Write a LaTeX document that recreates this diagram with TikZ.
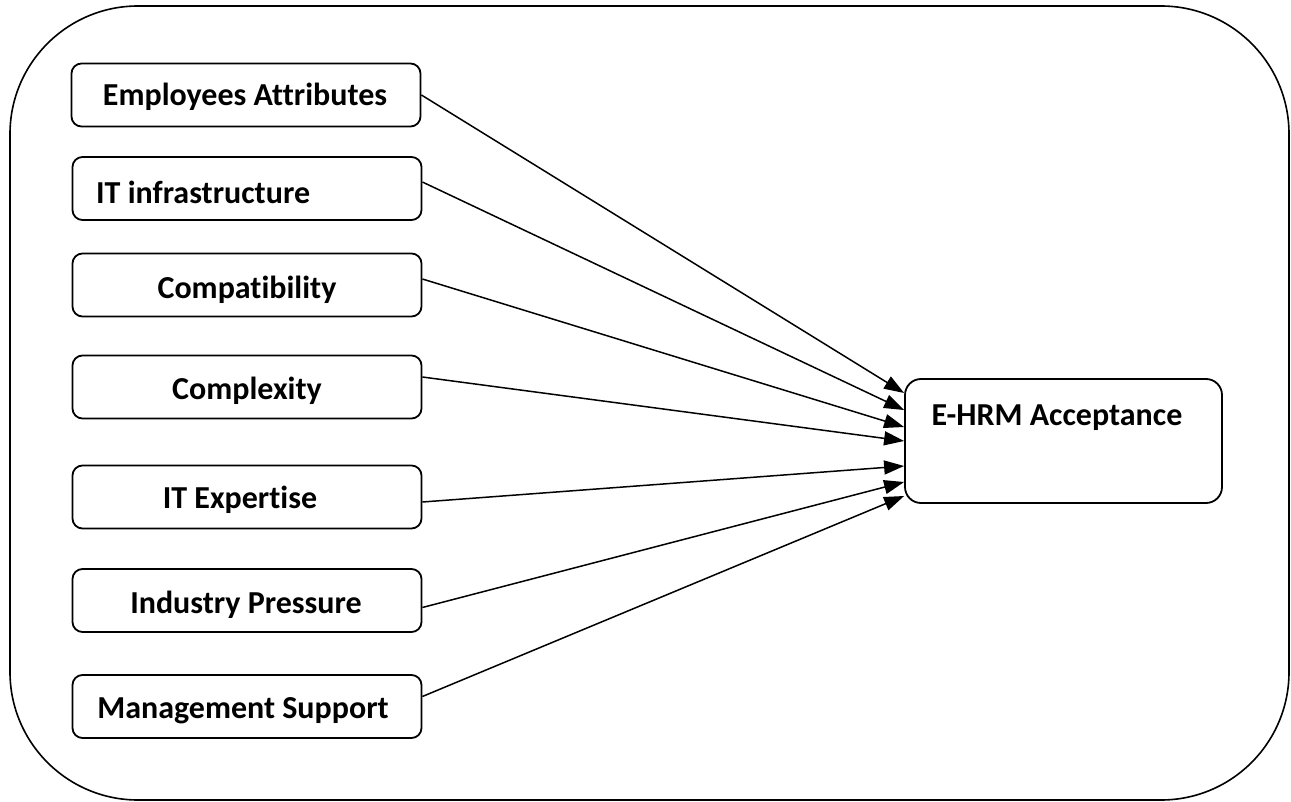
\documentclass[tikz,border=0pt]{standalone}
\usepackage{fontspec}
\setmainfont[Ligatures=NoCommon]{Carlito}
\usetikzlibrary{arrows.meta}
\begin{document}
\begin{tikzpicture}[x=1pt,y=-1pt,
  box/.style={draw,line width=1.8pt,rounded corners=10pt,minimum width=349pt,minimum height=63pt,inner sep=0pt},
  lbl/.style={font=\fontsize{32}{38}\selectfont\bfseries,inner sep=0pt,anchor=center},
  conn/.style={line width=1.5pt,-{Triangle[length=20pt,width=14pt]}}]
\useasboundingbox (0,0) rectangle (1291,802);
\draw[line width=1.6pt,rounded corners=128pt] (10,6) rectangle (1289,800);
% left boxes
\node[box] (b1) at (246,95) {};
\node[box] (b2) at (247,188.5) {};
\node[box] (b3) at (247,285) {};
\node[box] (b4) at (247,387) {};
\node[box] (b5) at (247,497) {};
\node[box] (b6) at (247,600.5) {};
\node[box] (b7) at (247,706.5) {};
\node[lbl] (t1) at (245,97) {Employees Attributes};
\node[lbl,anchor=west] (t2) at (96,192) {IT infrastructure};
\node[lbl] (t3) at (247,290) {Compatibility};
\node[lbl] (t4) at (247,391) {Complexity};
\node[lbl] (t5) at (240,500) {IT Expertise};
\node[lbl] (t6) at (246,605) {Industry Pressure};
\node[lbl] (t7) at (243,711) {Management Support};
% target
\node[draw,line width=1.8pt,rounded corners=16pt,minimum width=317pt,minimum height=124pt,inner sep=0pt] (e) at (1063.5,441) {};
\node[lbl] (te) at (1057,418) {E-HRM Acceptance};
% connectors
\draw[conn] (b1.east) -- ([yshift=48pt]e.west);
\draw[conn] ([yshift=6.5pt]b2.east) -- ([yshift=31pt]e.west);
\draw[conn] ([yshift=6pt]b3.east) -- ([yshift=14pt]e.west);
\draw[conn] ([yshift=10pt]b4.east) -- (e.west);
\draw[conn] ([yshift=-5pt]b5.east) -- ([yshift=-25pt]e.west);
\draw[conn] ([yshift=-7pt]b6.east) -- ([yshift=-41pt]e.west);
\draw[conn] ([yshift=10pt]b7.east) -- ([yshift=-55pt]e.west);
\end{tikzpicture}
\end{document}
